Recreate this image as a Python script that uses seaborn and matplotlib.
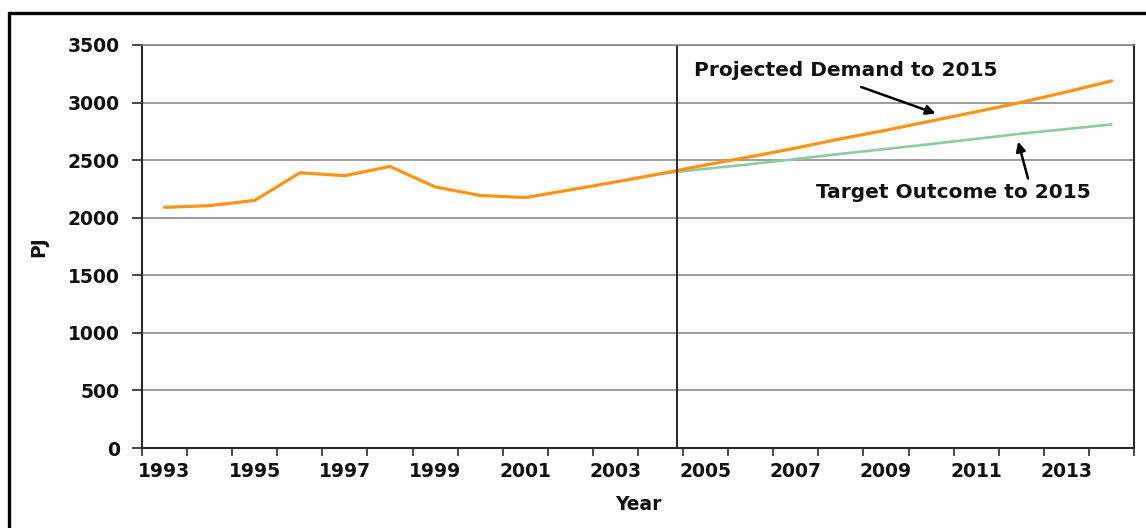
import numpy as np
import pandas as pd
import matplotlib.pyplot as plt
import seaborn as sns
from matplotlib.patches import Rectangle

# values
years = [1993, 1994, 1995, 1996, 1997, 1998, 1999, 2000, 2001, 2002, 2003,
         2004, 2005, 2006, 2007, 2008, 2009, 2010, 2011, 2012, 2013, 2014]
demand = [2090, 2105, 2150, 2390, 2365, 2445, 2268, 2193, 2175, 2242, 2310,
          2382, 2458, 2530, 2605, 2686, 2760, 2840, 2920, 3002, 3092, 3188]
target_years = [2004, 2005, 2006, 2007, 2008, 2009, 2010, 2011, 2012, 2013, 2014]
target = [2382, 2425, 2465, 2510, 2555, 2597, 2640, 2685, 2730, 2770, 2810]
x_labels = ["1993", "", "1995", "", "1997", "", "1999", "", "2001", "", "2003",
            "", "2005", "", "2007", "", "2009", "", "2011", "", "2013", ""]
y_ticks = [0, 500, 1000, 1500, 2000, 2500, 3000, 3500]

ORANGE = "#FF9414"
GREEN = "#8DCBA6"
DARK = "#2a2a2a"
GRID = "#828282"

sns.set_style("white")
plt.rcParams['font.family'] = ['DejaVu Sans']

W, H = 1146, 528
fig = plt.figure(figsize=(W / 100, H / 100), dpi=100)
fig.patch.set_facecolor("white")
ax = fig.add_axes([142 / W, 1 - 448 / H, 992 / W, 403 / H])

hist = pd.DataFrame({"Year": years, "PJ": demand})
proj = pd.DataFrame({"Year": target_years, "PJ": target})
sns.lineplot(data=proj, x="Year", y="PJ", color=GREEN, lw=1.9, ax=ax)
sns.lineplot(data=hist, x="Year", y="PJ", color=ORANGE, lw=2.3, ax=ax)

ax.set_xlim(years[0] - 0.5, years[-1] + 0.5)
ax.set_ylim(y_ticks[0], y_ticks[-1])
ax.set_yticks(y_ticks)
ax.set_yticklabels([str(v) for v in y_ticks])
ax.yaxis.grid(True, color=GRID, lw=1.1)
ax.set_axisbelow(True)

# category style axis: tick marks between years, labels at year centres
ax.set_xticks(np.arange(years[0] - 0.5, years[-1] + 1, 1))
ax.set_xticklabels([])
ax.set_xticks(years, minor=True)
ax.set_xticklabels(x_labels, minor=True)
ax.tick_params(axis="x", which="major", direction="out", length=6, width=1.2,
               color=DARK, bottom=True)
ax.tick_params(axis="x", which="minor", length=0, pad=10, labelsize=13.5,
               labelcolor="#111111")
ax.tick_params(axis="y", direction="out", length=7, width=1.2, color=DARK,
               left=True, pad=9, labelsize=13.5, labelcolor="#111111")
for lab in ax.get_xticklabels(minor=True) + ax.get_yticklabels():
    lab.set_fontweight("bold")

for side in ["left", "bottom", "right"]:
    ax.spines[side].set_color(DARK)
    ax.spines[side].set_linewidth(1.5)
ax.spines["top"].set_color(GRID)
ax.spines["top"].set_linewidth(1.1)

ax.axvline(2004.36, color=DARK, lw=1.4)

ax.set_xlabel("Year", fontsize=13.5, fontweight="bold", color="#111111", labelpad=10)
ax.set_ylabel("PJ", fontsize=13.5, fontweight="bold", color="#111111", labelpad=14)

# annotations
ax.text(2008.1, 3281, "Projected Demand to 2015", ha="center", va="center",
        fontsize=14.5, fontweight="bold", color="#111111")
ax.annotate("", xy=(2010.1, 2905), xytext=(2008.45, 3135),
            arrowprops=dict(arrowstyle="-|>", color="black", lw=1.8,
                            mutation_scale=14, shrinkA=0, shrinkB=0))
ax.text(2010.5, 2222, "Target Outcome to 2015", ha="center", va="center",
        fontsize=14.5, fontweight="bold", color="#111111")
ax.annotate("", xy=(2011.93, 2660), xytext=(2012.15, 2340),
            arrowprops=dict(arrowstyle="-|>", color="black", lw=1.8,
                            mutation_scale=14, shrinkA=0, shrinkB=0))

# outer frame, cut by the right and bottom edges of the picture
fig.add_artist(Rectangle((9 / W, -0.2), 1.2, 1.2 - 13 / H, fill=False,
                         edgecolor="black", lw=2.4, transform=fig.transFigure,
                         clip_on=False))

fig.savefig("out.png", dpi=100)
